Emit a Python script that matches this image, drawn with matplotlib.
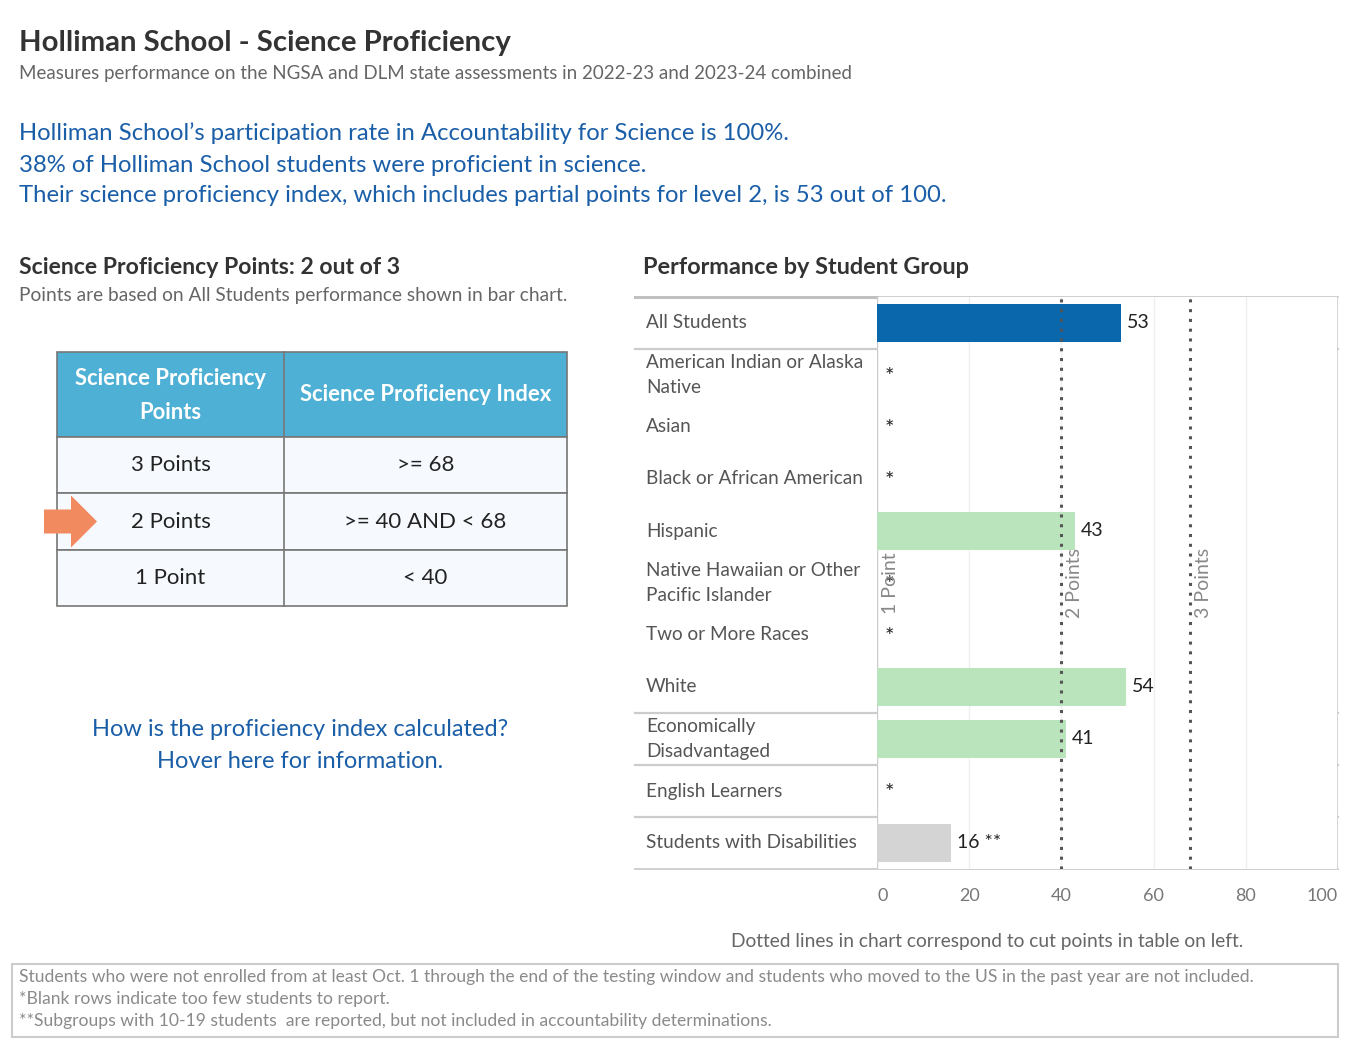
import matplotlib
matplotlib.use("Agg")
import matplotlib.pyplot as plt
from matplotlib.patches import Rectangle, Polygon

plt.rcParams['font.family'] = ['Lato', 'DejaVu Sans']

# ---------------- data ----------------
groups = ["All Students", "American Indian or Alaska\nNative", "Asian",
          "Black or African American", "Hispanic",
          "Native Hawaiian or Other\nPacific Islander", "Two or More Races",
          "White", "Economically\nDisadvantaged", "English Learners",
          "Students with Disabilities"]
values = [53, None, None, None, 43, None, None, 54, 41, None, 16]
value_suffix = ["", "", "", "", "", "", "", "", "", "", " **"]
bar_colors = ["#0A67AB", None, None, None, "#BAE4BC", None, None,
              "#BAE4BC", "#BAE4BC", None, "#D4D4D4"]
cut_points = [40, 68]
cut_label_pos = [0, 40, 68]
cut_labels = ["1 Point", "2 Points", "3 Points"]
x_ticks = [0, 20, 40, 60, 80, 100]

table_header = ["Science Proficiency\nPoints", "Science Proficiency Index"]
table_points = ["3 Points", "2 Points", "1 Point"]
table_index = [">= 68", ">= 40 AND < 68", "< 40"]
current_row = 1

W, H = 1350, 1050
fig = plt.figure(figsize=(W / 100, H / 100), dpi=100)
fig.patch.set_facecolor("white")

# overlay axes in pixel coordinates
ov = fig.add_axes([0, 0, 1, 1])
ov.set_xlim(0, W)
ov.set_ylim(H, 0)
ov.axis("off")

BLUE = "#1A5EA8"
DARK = "#333333"
GRAY = "#666666"

# ---------------- header texts ----------------
ov.text(19, 43, "Holliman School - Science Proficiency", fontsize=21.2, fontweight="bold",
        color=DARK, va="center", ha="left")
ov.text(19, 74, "Measures performance on the NGSA and DLM state assessments in 2022-23 and 2023-24 combined",
        fontsize=13.5, color=GRAY, va="center", ha="left")
blue_lines = ["Holliman School\u2019s participation rate in Accountability for Science is 100%.",
              "38% of Holliman School students were proficient in science.",
              "Their science proficiency index, which includes partial points for level 2, is 53 out of 100."]
for y, t in zip([133, 165, 195], blue_lines):
    ov.text(19, y, t, fontsize=17.2, color=BLUE, va="center", ha="left")

# ---------------- left section ----------------
ov.text(19, 268, "Science Proficiency Points: 2 out of 3", fontsize=16.6, fontweight="bold",
        color=DARK, va="center", ha="left")
ov.text(19, 296, "Points are based on All Students performance shown in bar chart.",
        fontsize=13.8, color=GRAY, va="center", ha="left")

tx0, tx1, tx2 = 57, 284, 567
ty = [352, 437, 493, 550, 606]
ov.add_patch(Rectangle((tx0, ty[0]), tx2 - tx0, ty[1] - ty[0], facecolor="#4DB0D4",
                       edgecolor="#777777", lw=1.2))
for i in range(3):
    ov.add_patch(Rectangle((tx0, ty[i + 1]), tx2 - tx0, ty[i + 2] - ty[i + 1],
                           facecolor="#F6FAFE", edgecolor="#777777", lw=1.2))
ov.plot([tx1, tx1], [ty[0], ty[-1]], color="#777777", lw=1.2)
ov.text((tx0 + tx1) / 2, (ty[0] + ty[1]) / 2 + 1, table_header[0], fontsize=15.8, fontweight="bold",
        color="white", ha="center", va="center", linespacing=1.8)
ov.text((tx1 + tx2) / 2, (ty[0] + ty[1]) / 2, table_header[1], fontsize=15.8, fontweight="bold",
        color="white", ha="center", va="center")
for i in range(3):
    yc = (ty[i + 1] + ty[i + 2]) / 2
    ov.text((tx0 + tx1) / 2, yc, table_points[i], fontsize=16, color="#222222",
            ha="center", va="center")
    ov.text((tx1 + tx2) / 2, yc, table_index[i], fontsize=16, color="#222222",
            ha="center", va="center")

# orange arrow pointing at current row
ay = (ty[current_row + 1] + ty[current_row + 2]) / 2
arrow = Polygon([(44, ay - 12), (71, ay - 12), (71, ay - 26), (97, ay),
                 (71, ay + 26), (71, ay + 12), (44, ay + 12)],
                closed=True, facecolor="#F28A5F", edgecolor="none")
ov.add_patch(arrow)

ov.text(300, 729, "How is the proficiency index calculated?", fontsize=17, color=BLUE,
        ha="center", va="center")
ov.text(300, 761, "Hover here for information.", fontsize=17, color=BLUE,
        ha="center", va="center")

# ---------------- chart section ----------------
ov.text(643, 268, "Performance by Student Group", fontsize=16.9, fontweight="bold",
        color=DARK, va="center", ha="left")

cx0, cx1, cy0, cy1 = 877, 1338, 297, 869
row_h = (cy1 - cy0) / len(groups)
ax = fig.add_axes([cx0 / W, 1 - cy1 / H, (cx1 - cx0) / W, (cy1 - cy0) / H])
ax.set_xlim(0, 100)
ax.set_ylim(len(groups) - 0.5, -0.5)
for s in ax.spines.values():
    s.set_visible(False)
ax.set_yticks([])
ax.set_xticks(x_ticks)
ax.set_xticklabels([str(t) for t in x_ticks])
ax.tick_params(axis="x", length=0, pad=14, labelsize=13, labelcolor="#777777")
labs = ax.get_xticklabels()
labs[0].set_ha("left")
labs[-1].set_ha("right")
for t in x_ticks[1:-1]:
    ax.axvline(t, color="#EFEFEF", lw=1, zorder=0)
ax.axvline(0, color="#CCCCCC", lw=1, zorder=1)
ax.axvline(100, color="#D0D0D0", lw=1.2, zorder=1)

for i, (v, c) in enumerate(zip(values, bar_colors)):
    if v is None:
        ax.annotate("*", xy=(0, i), xytext=(8, -2), textcoords="offset pixels",
                    fontsize=16, color="#222222", ha="left", va="center", zorder=4)
    else:
        ax.barh(i, v, height=0.74, color=c, zorder=2)
        ax.annotate(f"{v}{value_suffix[i]}", xy=(v, i), xytext=(6, 0),
                    textcoords="offset pixels", fontsize=14, color="#222222",
                    ha="left", va="center", zorder=4)

for cp in cut_points:
    ax.axvline(cp, color="#555555", lw=2.2, linestyle=(0, (1, 2.2)), zorder=3)
for xp, lab in zip(cut_label_pos, cut_labels):
    ax.annotate(lab, xy=(xp, 5), xytext=(13, 0), textcoords="offset pixels",
                rotation=90, fontsize=14, color="#888888", ha="center", va="center", zorder=4)

# row dividers and labels
lx0 = 635
for k in [0, 1, 8, 9, 10, 11]:
    yy = cy0 + k * row_h
    ov.plot([lx0, cx1], [yy, yy], color="#CCCCCC", lw=1.3 if k in (0, 11) else 1.6, zorder=5)
ov.plot([lx0, cx0], [cy0, cy0], color="#C0C0C0", lw=2.2, zorder=5)
for i, g in enumerate(groups):
    yc = cy0 + (i + 0.5) * row_h
    ov.text(646, yc, g, fontsize=13.7, color="#555555", ha="left", va="center",
            linespacing=1.6)

ov.text(987, 941, "Dotted lines in chart correspond to cut points in table on left.",
        fontsize=13.8, color=GRAY, ha="center", va="center")

# ---------------- footnote box ----------------
ov.add_patch(Rectangle((12, 964), 1326, 73, facecolor="none", edgecolor="#CCCCCC", lw=1.5))
foot = ["Students who were not enrolled from at least Oct. 1 through the end of the testing window and students who moved to the US in the past year are not included.",
        "*Blank rows indicate too few students to report.",
        "**Subgroups with 10-19 students  are reported, but not included in accountability determinations."]
for y, t in zip([977, 999, 1021], foot):
    ov.text(19, y, t, fontsize=12.6, color="#8A8A8A", ha="left", va="center")

fig.savefig("out.png", dpi=100, facecolor="white")
